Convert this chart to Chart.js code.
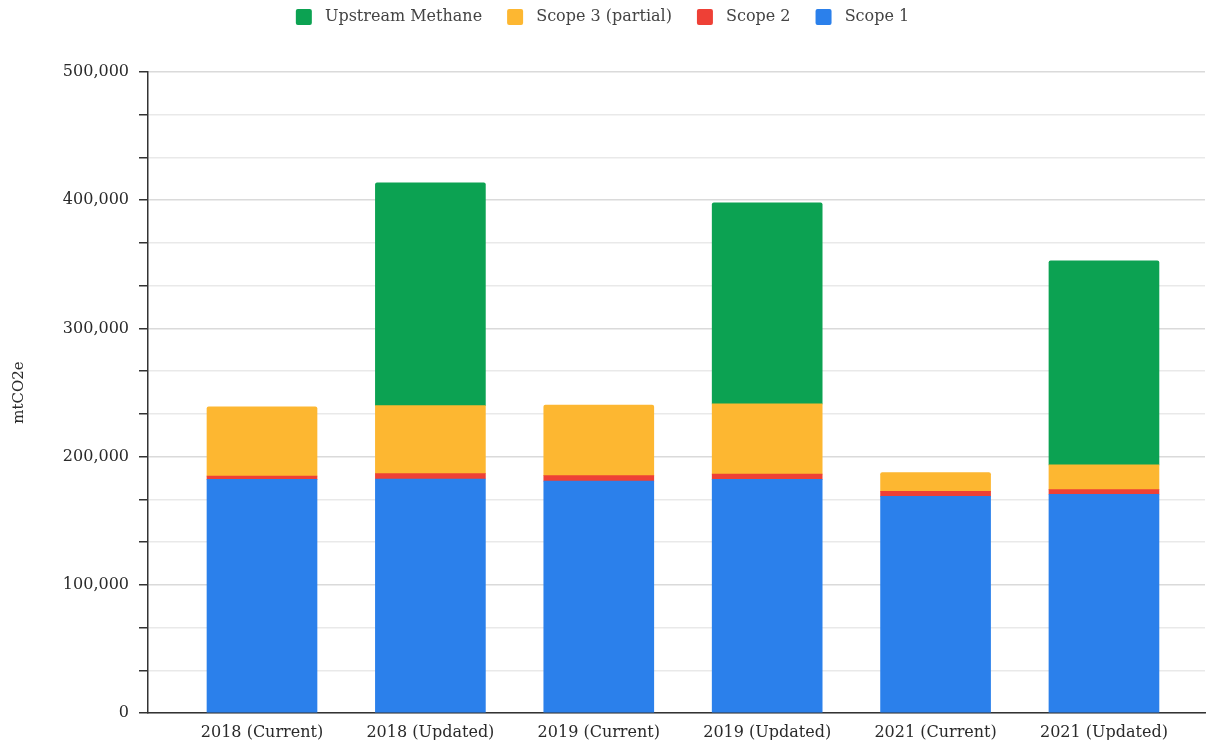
<!DOCTYPE html>
<html>
<head>
<meta charset="utf-8">
<script src="https://cdn.jsdelivr.net/npm/chart.js@4"></script>
<style>
    html, body { margin: 0; padding: 0; background: #fff; }
    #wrap { width: 1207px; height: 740px; }
</style>
</head>
<body>
<div id="wrap"><canvas id="emissionsChart"></canvas></div>
<script>
// data (mtCO2e)
const categories = ['2018 (Current)', '2018 (Updated)', '2019 (Current)', '2019 (Updated)', '2021 (Current)', '2021 (Updated)'];
const scope1 = [182200, 182500, 180900, 182200, 169000, 170600];
const scope2 = [2600, 4200, 4200, 4100, 3900, 3700];
const scope3 = [54000, 53000, 55000, 54800, 14600, 19200];
const methane = [null, 173900, null, 156800, null, 159300];

const yMax = 500000;
const yMajorStep = 100000;

Chart.defaults.font.family = "'DejaVu Serif', serif";
Chart.defaults.font.size = 16;
Chart.defaults.color = '#2a2a2a';

function toPoints(arr) {
    return arr.map((v, i) => ({ x: i, y: v }));
}

// a bit of room between legend and plot
const legendMargin = {
    id: 'legendMargin',
    beforeInit(chart) {
        const fit = chart.legend.fit;
        chart.legend.fit = function () {
            fit.bind(chart.legend)();
            this.height += 37;
        };
    }
};

const ctx = document.getElementById('emissionsChart').getContext('2d');
new Chart(ctx, {
    type: 'bar',
    data: {
        datasets: [
            { label: 'Scope 1', data: toPoints(scope1), backgroundColor: '#2b80eb' },
            { label: 'Scope 2', data: toPoints(scope2), backgroundColor: '#ee4036' },
            { label: 'Scope 3 (partial)', data: toPoints(scope3), backgroundColor: '#fdb731' },
            { label: 'Upstream Methane', data: toPoints(methane), backgroundColor: '#0ca252' }
        ]
    },
    options: {
        responsive: true,
        maintainAspectRatio: false,
        animation: false,
        layout: { padding: { right: 2 } },
        datasets: { bar: { barThickness: 110, borderRadius: 2 } },
        plugins: {
            tooltip: { enabled: false },
            legend: {
                reverse: true,
                labels: {
                    boxWidth: 16,
                    boxHeight: 16,
                    useBorderRadius: true,
                    borderRadius: 2,
                    padding: 9,
                    color: '#444',
                    generateLabels(chart) {
                        const items = Chart.defaults.plugins.legend.labels.generateLabels(chart);
                        items.forEach(it => {
                            it.text = ' ' + it.text + (it.datasetIndex === 0 ? '' : '\u2003');
                        });
                        return items;
                    }
                }
            }
        },
        scales: {
            x: {
                type: 'linear',
                stacked: true,
                offset: false,
                min: -0.677,
                max: 5.6,
                afterFit(scale) { scale.height = 27; },
                grid: { display: false },
                border: { display: true, color: '#333', width: 1.5 },
                ticks: {
                    stepSize: 1,
                    autoSkip: false,
                    maxRotation: 0,
                    padding: 2,
                    callback: v => Number.isInteger(v) ? categories[v] : ''
                }
            },
            y: {
                stacked: true,
                min: 0,
                max: yMax,
                afterFit(scale) { scale.width = 148; },
                border: { display: true, color: '#333', width: 1.5 },
                grid: {
                    lineWidth: 1.5,
                    color: c => (c.index % 3 === 0 ? '#dadada' : '#e9e9e9'),
                    tickColor: '#333',
                    tickLength: 9
                },
                ticks: {
                    count: 16,
                    padding: 10,
                    callback: v => {
                        const r = v / yMajorStep;
                        return Math.abs(r - Math.round(r)) < 1e-6 ? Math.round(v).toLocaleString('en-US') : '';
                    }
                },
                title: {
                    display: true,
                    text: 'mtCO2e',
                    font: { size: 15 },
                    padding: { top: 10, bottom: 4 }
                }
            }
        }
    },
    plugins: [legendMargin]
});
</script>
</body>
</html>
